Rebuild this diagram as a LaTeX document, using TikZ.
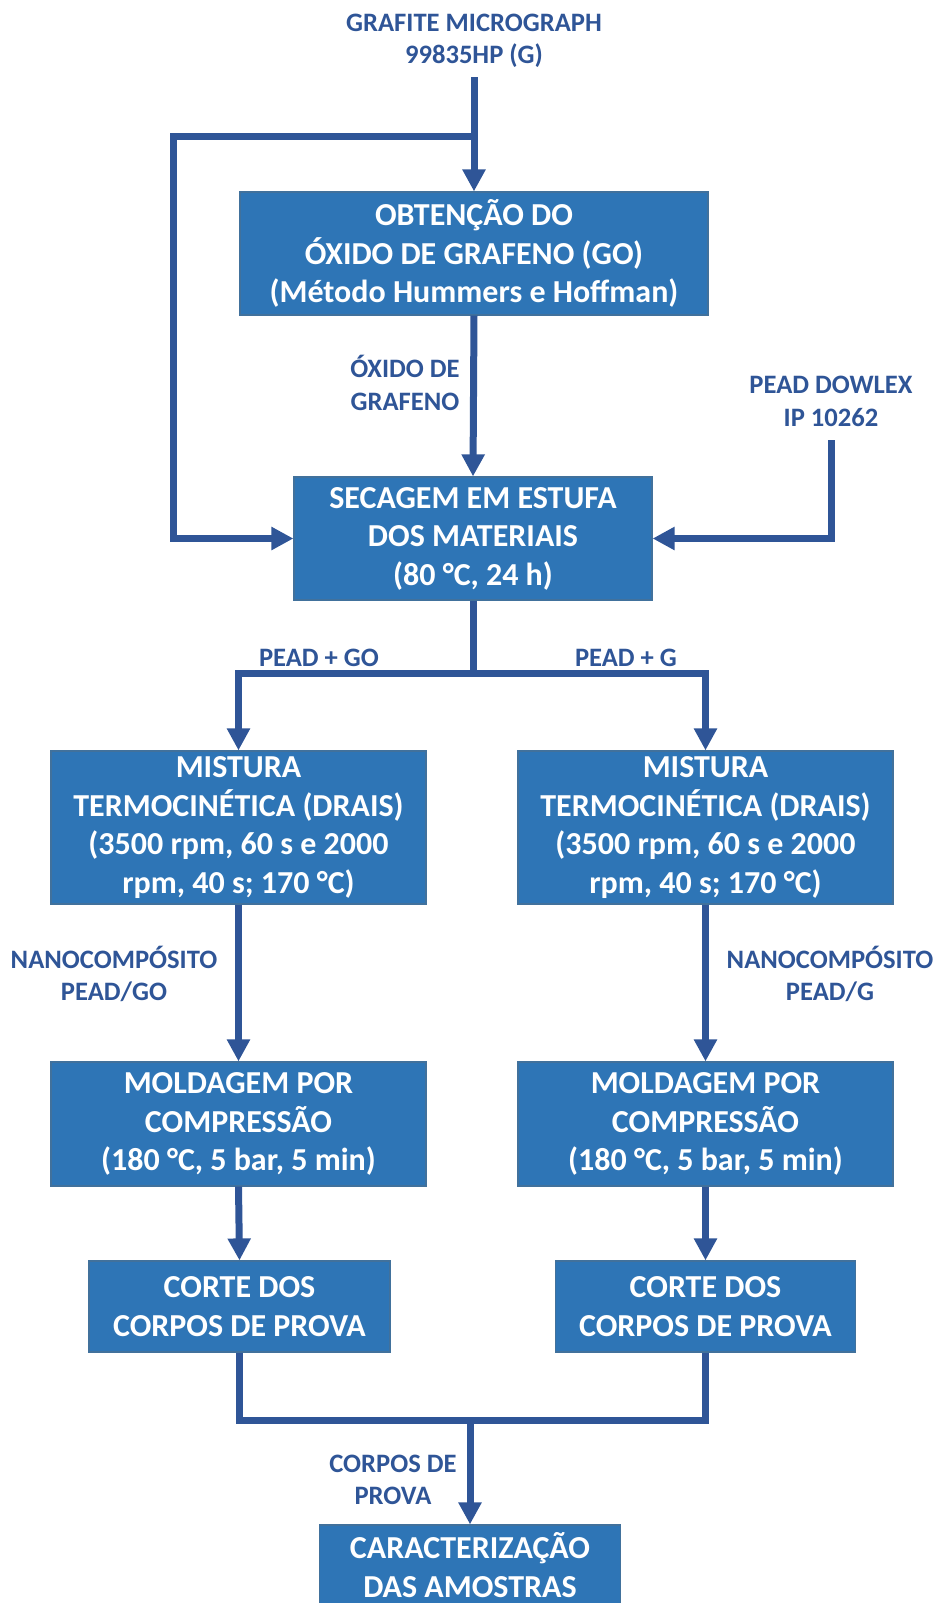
\documentclass[tikz,border=0pt]{standalone}
\usepackage{fontspec}
\setmainfont{Carlito}
\usetikzlibrary{arrows.meta}
\definecolor{boxblue}{HTML}{2E75B6}
\definecolor{boxedge}{HTML}{41719C}
\definecolor{arrblue}{HTML}{2F5597}
\begin{document}
\begin{tikzpicture}[x=0.5pt,y=-0.5pt,
  proc/.style={draw=boxedge, line width=0.6pt, fill=boxblue, text=white, align=center, inner sep=0pt,
    font=\bfseries\fontsize{16pt}{19.25pt}\selectfont},
  lbl/.style={text=arrblue, align=center, inner sep=0pt, font=\bfseries\fontsize{13.3pt}{16.25pt}\selectfont},
  conn/.style={draw=arrblue, line width=3.5pt, line join=miter},
  arr/.style={conn, -{Triangle[width=11pt,length=11pt]}}]
\useasboundingbox (0,0) rectangle (938,1603);
\begin{scope}
\clip (0,0) rectangle (938,1603);
% boxes
\node[proc, minimum width=234pt, minimum height=61.5pt] (b1) at (474,253.5)
  {OBTENÇÃO DO\\ÓXIDO DE GRAFENO (GO)\\(Método Hummers e Hoffman)};
\node[proc, minimum width=179pt, minimum height=61.5pt] (b2) at (473,538.5)
  {SECAGEM EM ESTUFA\\DOS MATERIAIS\\(80 °C, 24 h)};
\node[proc, minimum width=187.5pt, minimum height=76.5pt] (b3L) at (238.5,827.5)
  {MISTURA\\TERMOCINÉTICA (DRAIS)\\(3500 rpm, 60 s e 2000\\rpm, 40 s; 170 °C)};
\node[proc, minimum width=187.5pt, minimum height=76.5pt] (b3R) at (705.5,827.5)
  {MISTURA\\TERMOCINÉTICA (DRAIS)\\(3500 rpm, 60 s e 2000\\rpm, 40 s; 170 °C)};
\node[proc, minimum width=187.5pt, minimum height=62pt] (b4L) at (238.5,1124)
  {MOLDAGEM POR\\COMPRESSÃO\\(180 °C, 5 bar, 5 min)};
\node[proc, minimum width=187.5pt, minimum height=62pt] (b4R) at (705.5,1124)
  {MOLDAGEM POR\\COMPRESSÃO\\(180 °C, 5 bar, 5 min)};
\node[proc, minimum width=150.5pt, minimum height=45.5pt] (b5L) at (239.5,1306.5)
  {CORTE DOS\\CORPOS DE PROVA};
\node[proc, minimum width=150pt, minimum height=45.5pt] (b5R) at (705.5,1306.5)
  {CORTE DOS\\CORPOS DE PROVA};
\node[proc, minimum width=150.5pt, minimum height=40pt] (b6) at (470,1565)
  {CARACTERIZAÇÃO\\DAS AMOSTRAS};
% labels
\node[lbl] (lg) at (474,41) {GRAFITE MICROGRAPH\\99835HP (G)};
\node[lbl] (lgo) at (405,383) {ÓXIDO DE\\GRAFENO};
\node[lbl] (lpe) at (831,401.5) {PEAD DOWLEX\\IP 10262};
\node[lbl] (lpgo) at (319,658) {PEAD + GO};
\node[lbl] (lpg) at (626,658) {PEAD + G};
\node[lbl] (lnL) at (114,974) {NANOCOMPÓSITO\\PEAD/GO};
\node[lbl] (lnR) at (830,974) {NANOCOMPÓSITO\\PEAD/G};
\node[lbl] (lcp) at (393,1480) {CORPOS DE\\PROVA};
% coordinates
\coordinate (gtop) at (474,77);
\coordinate (j1) at (474,136);
\coordinate (lc) at (173,136);
\coordinate (ptop) at (831,440);
\coordinate (split) at (473,673);
\coordinate (merge) at (470,1420);
% connectors
\draw[arr] (gtop) -- (b1.north);
\draw[arr] (j1) -- (lc) |- (b2.west);
\draw[arr] (b1.south) -- (b2.north);
\draw[arr] (ptop) |- (b2.east);
\draw[conn] (b2.south) -- (split);
\draw[arr] (split) -| (b3L.north);
\draw[arr] (split) -| (b3R.north);
\draw[arr] (b3L.south) -- (b4L.north);
\draw[arr] (b3R.south) -- (b4R.north);
\draw[arr] (b4L.south) -- (b5L.north);
\draw[arr] (b4R.south) -- (b5R.north);
\draw[conn] (b5L.south) |- (merge) -| (b5R.south);
\draw[arr] (merge) -- (b6.north);
\end{scope}
\end{tikzpicture}
\end{document}
